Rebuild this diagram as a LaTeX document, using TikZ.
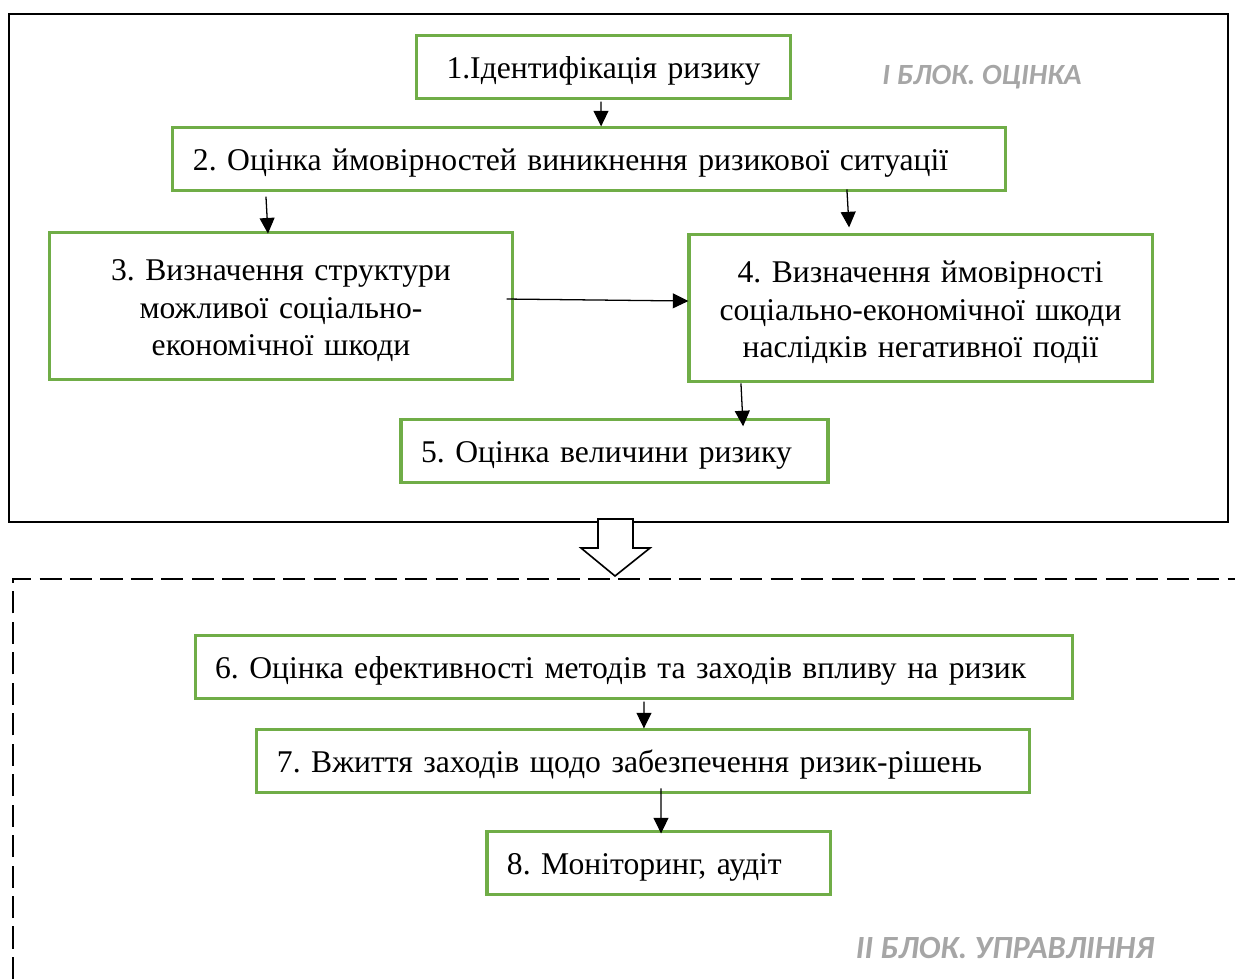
\documentclass[tikz,border=0pt]{standalone}
\usepackage{fontspec}
\setmainfont{Liberation Serif}
\newfontfamily\blockfont{Carlito}
\usetikzlibrary{arrows.meta}
\definecolor{boxgreen}{HTML}{70AD47}
\definecolor{blockgray}{HTML}{A6A6A6}
\frenchspacing
\tikzset{
  stagebox/.style={draw=boxgreen, line width=1.3pt, inner xsep=8.6pt, inner ysep=0pt,
    minimum height=26.7pt, font=\fontsize{13.6}{16.1}\selectfont},
  onebox/.style={stagebox, text height=10pt, text depth=0pt},
  tallbox/.style={stagebox, minimum height=63.6pt, align=center},
  arr/.style={line width=0.55pt, -{Triangle[length=6.7pt, width=6.4pt]}},
  blocklabel/.style={font=\blockfont\fontsize{12.6}{15}\selectfont\bfseries\itshape, text=blockgray, inner sep=0pt},
}
\newcommand{\toplift}{\rule{0pt}{13pt}}
\begin{document}
\begin{tikzpicture}[x=0.43pt, y=-0.43pt]
\useasboundingbox (0,0) rectangle (1235,979);

% first block frame
\draw[line width=1.1pt] (9,14) rectangle (1228,522);

% second block frame: open dashed corner
\draw[line width=1.1pt, dash pattern=on 9.5pt off 3.6pt] (13,979) -- (13,579) -- (1240,579);

% hollow arrow between the blocks
\draw[line width=0.7pt, fill=white, line join=miter]
  (598,519) -- (598,548) -- (581,548) -- (615,576) -- (650,548) -- (633,548) -- (633,519) -- cycle;

% block I
\node[onebox, text width=143.2pt, align=center] (b1) at (603.5,67) {1.Ідентифікація ризику};
\node[onebox, text width=340.6pt, align=left] (b2) at (589,159) {2. Оцінка ймовірностей виникнення ризикової ситуації};
\node[tallbox, text width=181.5pt] (b3) at (281,306) {\toplift 3. Визначення структури\\можливої соціально-\\економічної шкоди};
\node[tallbox, text width=181.9pt] (b4) at (920.5,308) {\toplift 4. Визначення ймовірності\\соціально-економічної шкоди\\наслідків негативної події};
\node[onebox, text width=166.4pt, align=left] (b5) at (614.5,451) {5. Оцінка величини ризику};

% block II
\node[onebox, text width=360.3pt, align=left] (b6) at (634,667) {6. Оцінка ефективності методів та заходів впливу на ризик};
\node[onebox, text width=314.8pt, align=left] (b7) at (643,761) {7. Вжиття заходів щодо забезпечення ризик-рішень};
\node[onebox, text width=130.3pt, align=left] (b8) at (658.5,863) {8. Моніторинг, аудіт};

% block titles
\node[blocklabel] (t1) at (982,77) {І БЛОК. ОЦІНКА};
\node[blocklabel, font=\blockfont\fontsize{13.9}{16}\selectfont\bfseries\itshape] (t2) at (1005,948) {ІІ БЛОК. УПРАВЛІННЯ};

% connectors
\draw[arr] ([xshift=-1.1pt,yshift=-0.9pt]b1.south) -- ([xshift=5.2pt]b2.north);
\draw[arr] ([xshift=-138.9pt,yshift=-2.2pt]b2.south) -- ([xshift=-5.6pt,yshift=-1.3pt]b3.north);
\draw[arr] ([xshift=110.9pt,yshift=0.9pt]b2.south) -- ([xshift=-30.7pt,yshift=2.2pt]b4.north);
\draw[arr] ([xshift=-3pt,yshift=3pt]b3.east) -- ([xshift=0.4pt,yshift=3pt]b4.west);
\draw[arr] ([xshift=-77.2pt]b4.south) -- ([xshift=55.3pt,yshift=-3.4pt]b5.north);
\draw[arr] ([xshift=4.3pt,yshift=-0.9pt]b6.south) -- ([xshift=0.4pt]b7.north);
\draw[arr] ([xshift=7.7pt,yshift=2.2pt]b7.south) -- ([xshift=1.1pt,yshift=-1.3pt]b8.north);
\end{tikzpicture}
\end{document}
